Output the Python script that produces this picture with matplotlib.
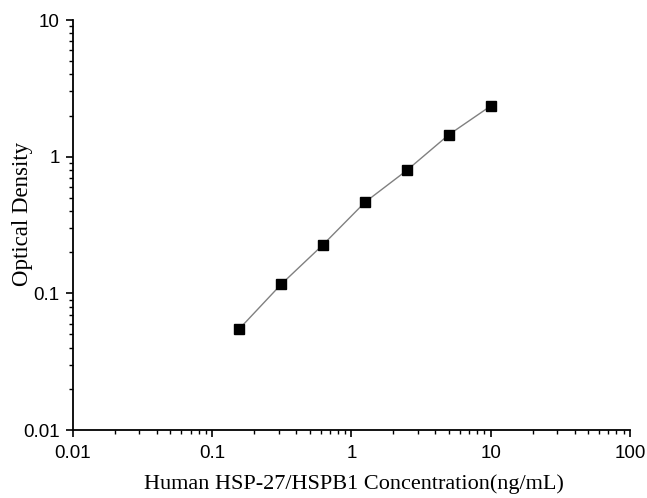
import matplotlib.pyplot as plt
from matplotlib.ticker import LogLocator, NullFormatter

# standard curve data
conc = [0.156, 0.3125, 0.625, 1.25, 2.5, 5, 10]
od = [0.0548, 0.1164, 0.227, 0.464, 0.795, 1.448, 2.35]

x_ticks = [0.01, 0.1, 1, 10, 100]
x_labels = ['0.01', '0.1', '1', '10', '100']
y_ticks = [0.01, 0.1, 1, 10]
y_labels = ['0.01', '0.1', '1', '10']

fig = plt.figure(figsize=(6.47, 4.98), dpi=100)
ax = fig.add_axes([0.1128, 0.1365, 0.8609, 0.8233])

ax.plot(conc, od, color='#808080', linewidth=1.0, zorder=2)
ax.plot(conc, od, linestyle='none', marker='s', markersize=6.5,
        color='black', zorder=3)

ax.set_xscale('log')
ax.set_yscale('log')
ax.set_xlim(0.01, 100)
ax.set_ylim(0.01, 10)

ax.xaxis.set_minor_locator(LogLocator(base=10, subs=range(2, 10)))
ax.yaxis.set_minor_locator(LogLocator(base=10, subs=range(2, 10)))
ax.set_xticks(x_ticks)
ax.set_xticklabels(x_labels)
ax.set_yticks(y_ticks)
ax.set_yticklabels(y_labels)
ax.xaxis.set_minor_formatter(NullFormatter())
ax.yaxis.set_minor_formatter(NullFormatter())

for s in ['top', 'right']:
    ax.spines[s].set_visible(False)
for s in ['left', 'bottom']:
    ax.spines[s].set_linewidth(1.3)

ax.tick_params(which='major', direction='out', length=5, width=1.2,
               labelsize=13.5)
ax.tick_params(axis='x', which='major', pad=6)
ax.tick_params(axis='y', which='major', pad=4.5)
ax.tick_params(which='minor', direction='out', length=3, width=1.0)
for lab in ax.get_xticklabels() + ax.get_yticklabels():
    lab.set_fontfamily('Liberation Sans')

ax.set_xlabel('Human HSP-27/HSPB1 Concentration(ng/mL)',
              fontfamily='Liberation Serif', fontsize=16)
ax.set_ylabel('Optical Density', fontfamily='Liberation Serif',
              fontsize=16.5)
# label positions from the reference (axes coords)
ax.xaxis.set_label_coords(0.5045, -0.108)
ax.yaxis.set_label_coords(-0.072, 0.526)

fig.savefig('out.png', dpi=100)
